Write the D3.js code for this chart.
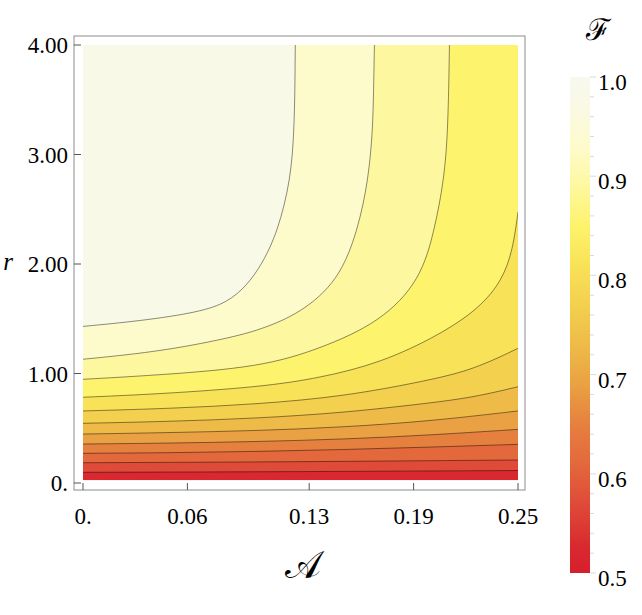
<!DOCTYPE html>
<html lang="en">
<head>
<meta charset="UTF-8">
<title>Fidelity contour plot</title>
<script src="https://d3js.org/d3.v7.min.js"></script>
<style>
  body { margin: 0; background: #fff; }
  text { font-family: "Liberation Serif", "DejaVu Serif", serif; fill: #000; }
</style>
</head>
<body>
<div id="chart"></div>
<script>
// contour levels of F, lowest first
var levels = [0.55, 0.59, 0.63, 0.67, 0.71, 0.75, 0.79, 0.83, 0.87, 0.91, 0.95];

// contour lines, as [A, r] points, same order as levels
var contours = [
  [[0, 0.098], [0.10, 0.102], [0.17, 0.108], [0.25, 0.114]],
  [[0, 0.185], [0.10, 0.192], [0.17, 0.200], [0.25, 0.210]],
  [[0, 0.271], [0.05, 0.276], [0.10, 0.288], [0.15, 0.305], [0.20, 0.328], [0.25, 0.353]],
  [[0, 0.356], [0.05, 0.364], [0.10, 0.378], [0.15, 0.400], [0.20, 0.438], [0.25, 0.490]],
  [[0, 0.447], [0.05, 0.460], [0.10, 0.478], [0.15, 0.510], [0.20, 0.566], [0.25, 0.658]],
  [[0, 0.545], [0.05, 0.562], [0.10, 0.591], [0.15, 0.642], [0.20, 0.731], [0.225, 0.785], [0.25, 0.879]],
  [[0, 0.658], [0.05, 0.680], [0.10, 0.720], [0.15, 0.790], [0.20, 0.941], [0.225, 1.04], [0.25, 1.23]],
  [[0, 0.783], [0.044, 0.813], [0.102, 0.877], [0.136, 0.959], [0.171, 1.096], [0.205, 1.352],
   [0.228, 1.598], [0.241, 1.854], [0.247, 2.128], [0.25, 2.475]],
  [[0, 0.947], [0.044, 0.986], [0.102, 1.059], [0.136, 1.224], [0.171, 1.470], [0.194, 1.854],
   [0.202, 2.311], [0.2075, 2.767], [0.2098, 3.224], [0.2106, 4.0]],
  [[0, 1.13], [0.044, 1.20], [0.083, 1.32], [0.102, 1.40], [0.125, 1.55], [0.147, 1.85],
   [0.158, 2.31], [0.164, 2.77], [0.1665, 3.22], [0.167, 3.59], [0.1675, 4.0]],
  [[0, 1.43], [0.033, 1.48], [0.067, 1.56], [0.083, 1.65], [0.094, 1.80], [0.103, 2.0],
   [0.112, 2.30], [0.1194, 2.77], [0.1213, 3.22], [0.1218, 3.6], [0.122, 4.0]]
];

var xTicks = [0, 0.06, 0.13, 0.19, 0.25];
var xTickLabels = ["0.", "0.06", "0.13", "0.19", "0.25"];
var yTicks = [0, 1, 2, 3, 4];
var yTickLabels = ["0.", "1.00", "2.00", "3.00", "4.00"];
var cbTicks = [0.5, 0.6, 0.7, 0.8, 0.9, 1.0];
var cbTickLabels = ["0.5", "0.6", "0.7", "0.8", "0.9", "1.0"];

var aDomain = [0, 0.25];
var rDomain = [0, 4];
var rMin = 0.025;   // lowest r that is shaded
var fDomain = [0.5, 1.0];

// colour map of the legend
var colorStops = [
  [0.50, "#d61f2d"], [0.525, "#d9282f"], [0.57, "#df4b38"], [0.61, "#e3683c"],
  [0.65, "#e6803f"], [0.69, "#eaa143"], [0.73, "#eebb48"], [0.77, "#f3d04e"],
  [0.81, "#f8e257"], [0.85, "#fdf36c"], [0.89, "#fdf8a0"], [0.93, "#fdfbcc"],
  [0.975, "#f9f9e7"], [1.0, "#f8f8ee"]
];
var colorScale = d3.scaleLinear()
  .domain(colorStops.map(function(d) { return d[0]; }))
  .range(colorStops.map(function(d) { return d[1]; }))
  .interpolate(d3.interpolateRgb);

var W = 642, H = 615;
var svg = d3.select("#chart").append("svg")
  .attr("width", W).attr("height", H);

var x = d3.scaleLinear().domain(aDomain).range([83, 518]);
var y = d3.scaleLinear().domain(rDomain).range([483, 45]);

var frame = { left: 74, right: 525, top: 36, bottom: 490 };

svg.append("defs").append("clipPath").attr("id", "plotClip")
  .append("rect")
  .attr("x", x(aDomain[0])).attr("y", y(rDomain[1]))
  .attr("width", x(aDomain[1]) - x(aDomain[0]))
  .attr("height", y(rMin) - y(rDomain[1]));

var plot = svg.append("g").attr("clip-path", "url(#plotClip)");

var lineGen = d3.line()
  .x(function(d) { return x(d[0]); })
  .y(function(d) { return y(d[1]); })
  .curve(d3.curveBasis);

// band colours: value in the middle of each band
var bounds = [fDomain[0]].concat(levels).concat([fDomain[1]]);
function bandColor(i) { return colorScale((bounds[i] + bounds[i + 1]) / 2); }

plot.append("rect")
  .attr("x", x(aDomain[0])).attr("y", y(rDomain[1]))
  .attr("width", x(aDomain[1]) - x(aDomain[0]))
  .attr("height", y(rMin) - y(rDomain[1]))
  .attr("fill", bandColor(0));

// region above each contour, painted from low to high
plot.selectAll("path.band")
  .data(contours)
  .enter().append("path")
  .attr("class", "band")
  .attr("fill", function(d, i) { return bandColor(i + 1); })
  .attr("stroke", "none")
  .attr("d", function(d) {
    var last = d[d.length - 1];
    var p = lineGen(d);
    if (last[1] < rDomain[1]) p += "L" + x(aDomain[1]) + "," + y(rDomain[1]);
    p += "L" + x(aDomain[0]) + "," + y(rDomain[1]) + "Z";
    return p;
  });

plot.selectAll("path.contour")
  .data(contours)
  .enter().append("path")
  .attr("class", "contour")
  .attr("fill", "none")
  .attr("stroke", "#000")
  .attr("stroke-opacity", 0.5)
  .attr("stroke-width", 0.9)
  .attr("d", lineGen);

// frame
svg.append("rect")
  .attr("x", frame.left).attr("y", frame.top)
  .attr("width", frame.right - frame.left)
  .attr("height", frame.bottom - frame.top)
  .attr("fill", "none").attr("stroke", "#8c8c8c").attr("stroke-width", 1);

// ticks
svg.selectAll("line.xtick").data(xTicks).enter().append("line")
  .attr("x1", function(d) { return x(d); }).attr("x2", function(d) { return x(d); })
  .attr("y1", frame.bottom).attr("y2", frame.bottom - 7)
  .attr("stroke", "#555").attr("stroke-width", 1);
svg.selectAll("line.ytick").data(yTicks).enter().append("line")
  .attr("y1", function(d) { return y(d); }).attr("y2", function(d) { return y(d); })
  .attr("x1", frame.left).attr("x2", frame.left + 7)
  .attr("stroke", "#555").attr("stroke-width", 1);

svg.selectAll("text.xlab").data(xTicks).enter().append("text")
  .attr("x", function(d) { return x(d); })
  .attr("y", 524)
  .attr("text-anchor", "middle")
  .attr("font-size", 23)
  .text(function(d, i) { return xTickLabels[i]; });

svg.selectAll("text.ylab").data(yTicks).enter().append("text")
  .attr("x", 68)
  .attr("y", function(d) { return y(d) + 8; })
  .attr("text-anchor", "end")
  .attr("font-size", 23)
  .text(function(d, i) { return yTickLabels[i]; });

// axis titles
svg.append("text")
  .attr("x", 303).attr("y", 578)
  .attr("text-anchor", "middle")
  .attr("font-size", 38)
  .style("font-family", "'DejaVu Serif', serif")
  .text("\uD835\uDC9C");
svg.append("text")
  .attr("x", 8).attr("y", 270)
  .attr("text-anchor", "middle")
  .attr("font-size", 25)
  .style("font-style", "italic")
  .text("r");

// colour bar
var cb = d3.scaleLinear().domain(fDomain).range([573, 77]);
var grad = svg.select("defs").append("linearGradient")
  .attr("id", "cbGrad").attr("x1", 0).attr("y1", 1).attr("x2", 0).attr("y2", 0);
grad.selectAll("stop").data(colorStops).enter().append("stop")
  .attr("offset", function(d) { return (d[0] - fDomain[0]) / (fDomain[1] - fDomain[0]); })
  .attr("stop-color", function(d) { return d[1]; });

svg.append("rect")
  .attr("x", 570).attr("y", cb(1.0))
  .attr("width", 20).attr("height", cb(0.5) - cb(1.0))
  .attr("fill", "url(#cbGrad)");

svg.selectAll("line.cbminor").data(d3.range(0, 26)).enter().append("line")
  .attr("x1", 590).attr("x2", function(d) { return d % 5 === 0 ? 596 : 594; })
  .attr("y1", function(d) { return cb(0.5 + d * 0.02); })
  .attr("y2", function(d) { return cb(0.5 + d * 0.02); })
  .attr("stroke", "#cfcfcf").attr("stroke-width", 0.8);

svg.selectAll("text.cblab").data(cbTicks).enter().append("text")
  .attr("x", 598)
  .attr("y", function(d) { return cb(d) + 13; })
  .attr("font-size", 23)
  .text(function(d, i) { return cbTickLabels[i]; });

svg.append("text")
  .attr("x", 598).attr("y", 40)
  .attr("text-anchor", "middle")
  .attr("font-size", 30)
  .style("font-family", "'DejaVu Serif', serif")
  .text("\u2131");
</script>
</body>
</html>
